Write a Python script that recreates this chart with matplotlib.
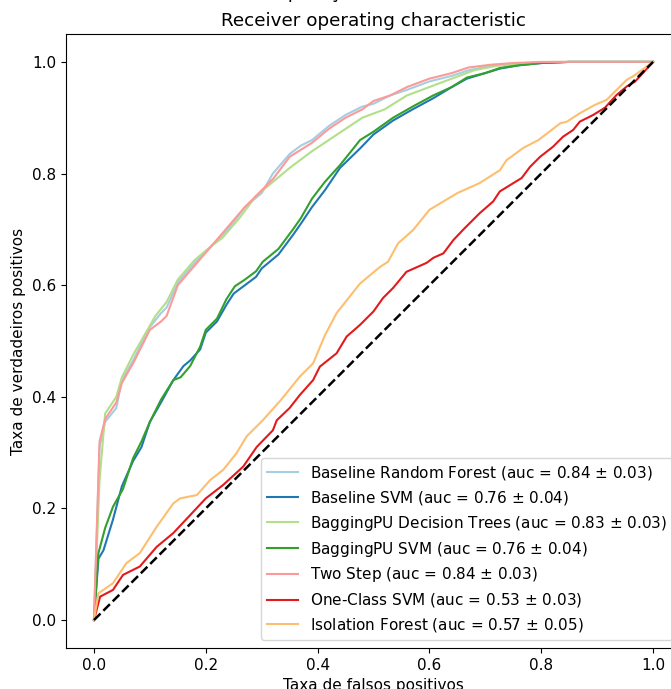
import matplotlib
matplotlib.use('Agg')
import matplotlib.pyplot as plt

plt.rcParams.update({'font.size': 11})

# Paired palette, one colour per model
COLORS = ['#a6cee3', '#1f78b4', '#b2df8a', '#33a02c', '#fb9a99', '#e31a1c', '#fdbf6f']

LABELS = [
    'Baseline Random Forest (auc = 0.84 $\\pm$ 0.03)',
    'Baseline SVM (auc = 0.76 $\\pm$ 0.04)',
    'BaggingPU Decision Trees (auc = 0.83 $\\pm$ 0.03)',
    'BaggingPU SVM (auc = 0.76 $\\pm$ 0.04)',
    'Two Step (auc = 0.84 $\\pm$ 0.03)',
    'One-Class SVM (auc = 0.53 $\\pm$ 0.03)',
    'Isolation Forest (auc = 0.57 $\\pm$ 0.05)',
]

rf_fpr = [0, 0.01, 0.02, 0.04, 0.05, 0.07, 0.10, 0.12, 0.13, 0.15, 0.18, 0.21, 0.24, 0.27, 0.30,
          0.32, 0.35, 0.37, 0.39, 0.42, 0.45, 0.48, 0.50, 0.53, 0.56, 0.60, 0.64, 0.67, 0.71, 0.75,
          0.80, 0.85, 0.90, 1.0]
rf_tpr = [0, 0.31, 0.355, 0.38, 0.43, 0.465, 0.525, 0.55, 0.56, 0.605, 0.64, 0.67, 0.70, 0.74, 0.765,
          0.80, 0.835, 0.85, 0.86, 0.885, 0.905, 0.92, 0.925, 0.94, 0.95, 0.965, 0.975, 0.985, 0.993, 0.996,
          0.999, 1.0, 1.0, 1.0]

svm_fpr = [0, 0.008, 0.017, 0.034, 0.05, 0.07, 0.085, 0.10, 0.12, 0.142, 0.16, 0.172, 0.19, 0.20, 0.22,
           0.237, 0.25, 0.27, 0.29, 0.30, 0.33, 0.356, 0.37, 0.39, 0.413, 0.44, 0.476, 0.50, 0.535, 0.57,
           0.607, 0.64, 0.667, 0.70, 0.726, 0.76, 0.80, 0.85, 1.0]
svm_tpr = [0, 0.11, 0.125, 0.18, 0.24, 0.285, 0.31, 0.355, 0.39, 0.43, 0.455, 0.465, 0.485, 0.515, 0.535,
           0.565, 0.585, 0.60, 0.615, 0.63, 0.655, 0.69, 0.71, 0.74, 0.77, 0.81, 0.845, 0.87, 0.895, 0.915,
           0.935, 0.955, 0.97, 0.98, 0.988, 0.994, 0.998, 1.0, 1.0]

bdt_fpr = [0, 0.01, 0.02, 0.04, 0.05, 0.07, 0.09, 0.11, 0.13, 0.15, 0.18, 0.21, 0.23, 0.26, 0.29,
           0.32, 0.35, 0.39, 0.42, 0.45, 0.48, 0.52, 0.56, 0.60, 0.64, 0.68, 0.72, 0.77, 0.82, 0.86, 1.0]
bdt_tpr = [0, 0.25, 0.37, 0.40, 0.435, 0.475, 0.51, 0.545, 0.57, 0.61, 0.645, 0.67, 0.685, 0.72, 0.76,
           0.785, 0.81, 0.84, 0.86, 0.88, 0.90, 0.915, 0.94, 0.955, 0.97, 0.985, 0.993, 0.997, 1.0, 1.0, 1.0]

bsvm_fpr = [0, 0.008, 0.02, 0.034, 0.052, 0.07, 0.085, 0.10, 0.12, 0.142, 0.155, 0.172, 0.19, 0.20, 0.22,
            0.237, 0.252, 0.27, 0.29, 0.302, 0.33, 0.356, 0.37, 0.39, 0.413, 0.44, 0.476, 0.50, 0.535, 0.57,
            0.607, 0.64, 0.667, 0.70, 0.726, 0.76, 0.80, 0.85, 1.0]
bsvm_tpr = [0, 0.12, 0.165, 0.203, 0.235, 0.29, 0.32, 0.355, 0.395, 0.43, 0.435, 0.455, 0.49, 0.52, 0.54,
            0.575, 0.598, 0.61, 0.625, 0.642, 0.665, 0.70, 0.72, 0.755, 0.785, 0.815, 0.86, 0.875, 0.90, 0.92,
            0.94, 0.955, 0.972, 0.98, 0.989, 0.994, 0.998, 1.0, 1.0]

two_fpr = [0, 0.01, 0.02, 0.04, 0.05, 0.07, 0.10, 0.12, 0.13, 0.15, 0.18, 0.21, 0.24, 0.27, 0.30,
           0.32, 0.35, 0.39, 0.42, 0.45, 0.48, 0.50, 0.53, 0.56, 0.60, 0.64, 0.67, 0.71, 0.75, 0.80,
           0.85, 1.0]
two_tpr = [0, 0.32, 0.36, 0.39, 0.425, 0.46, 0.52, 0.535, 0.545, 0.60, 0.635, 0.67, 0.705, 0.74, 0.77,
           0.79, 0.83, 0.855, 0.88, 0.90, 0.915, 0.93, 0.94, 0.955, 0.97, 0.98, 0.99, 0.995, 0.998, 1.0,
           1.0, 1.0]

ocsvm_fpr = [0, 0.011, 0.034, 0.052, 0.082, 0.112, 0.142, 0.172, 0.2, 0.231, 0.267, 0.291, 0.32, 0.327,
             0.35, 0.368, 0.392, 0.404, 0.434, 0.452, 0.476, 0.5, 0.517, 0.535, 0.559, 0.595, 0.607, 0.625,
             0.643, 0.66, 0.69, 0.714, 0.726, 0.765, 0.78, 0.798, 0.821, 0.839, 0.857, 0.869, 0.893, 0.914,
             0.935, 0.953, 0.968, 1.0]
ocsvm_tpr = [0, 0.042, 0.054, 0.081, 0.096, 0.131, 0.156, 0.188, 0.218, 0.242, 0.275, 0.31, 0.34, 0.358,
             0.38, 0.403, 0.43, 0.454, 0.478, 0.508, 0.529, 0.553, 0.577, 0.595, 0.624, 0.64, 0.649, 0.657,
             0.681, 0.699, 0.729, 0.75, 0.768, 0.792, 0.812, 0.83, 0.848, 0.866, 0.878, 0.893, 0.905, 0.918,
             0.941, 0.956, 0.965, 1.0]

iso_fpr = [0, 0.008, 0.034, 0.058, 0.082, 0.112, 0.142, 0.154, 0.184, 0.208, 0.231, 0.255, 0.273, 0.302,
           0.335, 0.368, 0.392, 0.413, 0.434, 0.476, 0.512, 0.526, 0.544, 0.571, 0.60, 0.65, 0.69, 0.726,
           0.738, 0.768, 0.795, 0.834, 0.846, 0.869, 0.896, 0.917, 0.935, 0.953, 0.964, 1.0]
iso_tpr = [0, 0.048, 0.066, 0.102, 0.12, 0.167, 0.209, 0.218, 0.224, 0.251, 0.269, 0.299, 0.329, 0.358,
           0.395, 0.436, 0.46, 0.51, 0.55, 0.603, 0.633, 0.642, 0.675, 0.699, 0.735, 0.765, 0.783, 0.806,
           0.824, 0.846, 0.86, 0.89, 0.893, 0.908, 0.923, 0.932, 0.95, 0.968, 0.974, 1.0]

CURVES = [(rf_fpr, rf_tpr), (svm_fpr, svm_tpr), (bdt_fpr, bdt_tpr), (bsvm_fpr, bsvm_tpr),
          (two_fpr, two_tpr), (ocsvm_fpr, ocsvm_tpr), (iso_fpr, iso_tpr)]

fig = plt.figure(figsize=(6.71, 6.89), dpi=100)
# axes run past the right edge, like the cropped original
ax = fig.add_axes([66 / 671, 41 / 689, 615 / 671, 614 / 689])

for (fpr, tpr), color, label in zip(CURVES, COLORS, LABELS):
    ax.plot(fpr, tpr, color=color, lw=1.5, label=label)

ax.plot([0, 1], [0, 1], 'k--', lw=1.8)

ax.set_xlim(-0.05, 1.05)
ax.set_ylim(-0.05, 1.05)
ax.set_xlabel('Taxa de falsos positivos')
ax.set_ylabel('Taxa de verdadeiros positivos')
ax.set_title('Comparação entre modelos\nReceiver operating characteristic', linespacing=1.7)
ax.legend(loc='lower right', labelspacing=0.45)

fig.savefig('out.png', dpi=100)
